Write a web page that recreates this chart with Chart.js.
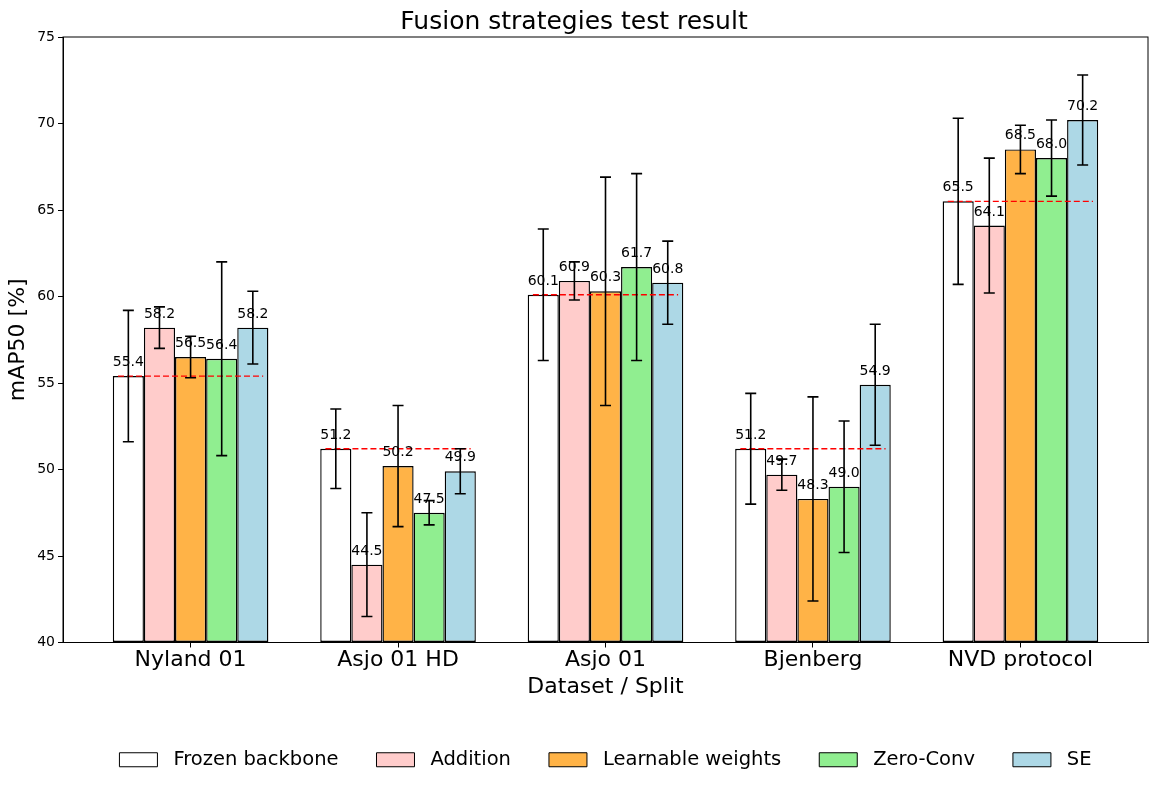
<!DOCTYPE html>
<html>
<head>
<meta charset="utf-8">
<script src="https://cdn.jsdelivr.net/npm/chart.js@4.4.1/dist/chart.umd.min.js"></script>
<style>
  html, body { margin: 0; padding: 0; background: #fff; }
  #wrap { width: 1157px; height: 788px; position: relative; }
</style>
</head>
<body>
<div id="wrap"><canvas id="graph"></canvas></div>
<script>
const groups = ['Nyland 01', 'Asjo 01 HD', 'Asjo 01', 'Bjenberg', 'NVD protocol'];
const seriesNames = ['Frozen backbone', 'Addition', 'Learnable weights', 'Zero-Conv', 'SE'];
const seriesColors = ['#ffffff', '#ffcccb', '#ffb347', '#90ee90', '#add8e6'];

const frozen = [55.4, 51.2, 60.1, 51.2, 65.5];
const frozenErr = [3.8, 2.3, 3.8, 3.2, 4.8];
const addition = [58.2, 44.5, 60.9, 49.7, 64.1];
const additionErr = [1.2, 3.0, 1.1, 0.9, 3.9];
const learnable = [56.5, 50.2, 60.3, 48.3, 68.5];
const learnableErr = [1.2, 3.5, 6.6, 5.9, 1.4];
const zeroConv = [56.4, 47.5, 61.7, 49.0, 68.0];
const zeroConvErr = [5.6, 0.7, 5.4, 3.8, 2.2];
const se = [58.2, 49.9, 60.8, 54.9, 70.2];
const seErr = [2.1, 1.3, 2.4, 3.5, 2.6];

const yTicks = [40, 45, 50, 55, 60, 65, 70, 75];

const allValues = [frozen, addition, learnable, zeroConv, se];
const allErrors = [frozenErr, additionErr, learnableErr, zeroConvErr, seErr];

const FONT = "'DejaVu Sans', sans-serif";

let datasets = [];
allValues.forEach((vals, s) => {
    datasets.push({
        type: 'bar',
        label: seriesNames[s],
        data: vals.map((v, i) => ({ x: i, y: v })),
        errors: allErrors[s],
        backgroundColor: seriesColors[s],
        borderColor: '#000',
        borderWidth: 1.4,
        borderSkipped: false,
        base: 40,
        order: 1
    });
});

// baseline (frozen) dashed line over each group
frozen.forEach((v, i) => {
    datasets.push({
        type: 'line',
        label: 'baseline',
        data: [{ x: i - 0.35, y: v }, { x: i + 0.35, y: v }],
        borderColor: '#ff0000',
        borderWidth: 1.3,
        borderDash: [6, 3],
        pointRadius: 0,
        fill: false,
        order: 0
    });
});

const errorBarPlugin = {
    id: 'errorBars',
    afterDatasetsDraw(chart) {
        const ctx = chart.ctx;
        const yScale = chart.scales.y;
        ctx.save();
        // value labels first, error bars drawn over them
        ctx.font = '14px ' + FONT;
        ctx.fillStyle = '#000';
        ctx.textAlign = 'center';
        ctx.textBaseline = 'bottom';
        chart.data.datasets.forEach((ds, di) => {
            if (ds.type !== 'bar') return;
            const meta = chart.getDatasetMeta(di);
            meta.data.forEach((bar, i) => {
                const v = ds.data[i].y;
                ctx.fillText(v.toFixed(1), bar.x, yScale.getPixelForValue(v + 0.5) + 2);
            });
        });
        ctx.strokeStyle = '#000';
        ctx.lineWidth = 1.6;
        chart.data.datasets.forEach((ds, di) => {
            if (ds.type !== 'bar') return;
            const meta = chart.getDatasetMeta(di);
            meta.data.forEach((bar, i) => {
                const v = ds.data[i].y;
                const e = ds.errors[i];
                const yTop = yScale.getPixelForValue(v + e);
                const yBot = yScale.getPixelForValue(v - e);
                ctx.beginPath();
                ctx.moveTo(bar.x, yTop);
                ctx.lineTo(bar.x, yBot);
                ctx.moveTo(bar.x - 5.5, yTop);
                ctx.lineTo(bar.x + 5.5, yTop);
                ctx.moveTo(bar.x - 5.5, yBot);
                ctx.lineTo(bar.x + 5.5, yBot);
                ctx.stroke();
            });
        });
        ctx.restore();
    },
    afterLayout(chart) {
        // center the legend under the plot area like matplotlib
        const shift = (chart.chartArea.left + chart.chartArea.right) / 2 - (chart.legend.left + chart.legend.right) / 2;
        chart.legend.left += shift;
        chart.legend.right += shift;
    },
    afterDraw(chart) {
        const a = chart.chartArea;
        const ctx = chart.ctx;
        ctx.save();
        ctx.strokeStyle = '#000';
        ctx.lineWidth = 1;
        ctx.strokeRect(a.left, a.top, a.right - a.left, a.bottom - a.top);
        ctx.restore();
    }
};

const ctx = document.getElementById('graph').getContext('2d');
const chart = new Chart(ctx, {
    type: 'bar',
    data: { datasets: datasets },
    plugins: [errorBarPlugin],
    options: {
        responsive: true,
        maintainAspectRatio: false,
        animation: false,
        datasets: { bar: { categoryPercentage: 0.75, barPercentage: 1.0, grouped: true } },
        layout: { padding: { left: 0, right: 9, top: 0, bottom: 8.5 } },
        scales: {
            x: {
                type: 'linear',
                min: -0.615,
                max: 4.615,
                offset: false,
                afterBuildTicks: scale => { scale.ticks = groups.map((g, i) => ({ value: i })); },
                afterFit: scale => { scale.height = 69.5; },
                ticks: {
                    callback: value => groups[value],
                    font: { family: FONT, size: 22 },
                    color: '#000',
                    padding: 0,
                    maxRotation: 0,
                    autoSkip: false
                },
                grid: { display: true, drawOnChartArea: false, offset: false, tickLength: 5, color: '#000' },
                border: { display: true, color: '#000' },
                title: {
                    display: true,
                    text: 'Dataset / Split',
                    font: { family: FONT, size: 22 },
                    color: '#000',
                    padding: { top: 0, bottom: 11.3 }
                }
            },
            y: {
                min: 40,
                max: 75,
                afterBuildTicks: scale => { scale.ticks = yTicks.map(v => ({ value: v })); },
                afterFit: scale => { scale.width = 63; },
                ticks: {
                    font: { family: FONT, size: 14 },
                    color: '#000',
                    padding: 3
                },
                grid: { display: true, drawOnChartArea: false, tickLength: 5, color: '#000' },
                border: { display: true, color: '#000' },
                title: {
                    display: true,
                    text: 'mAP50 [%]',
                    font: { family: FONT, size: 22 },
                    color: '#000',
                    padding: { top: 5, bottom: 0 }
                }
            }
        },
        plugins: {
            title: {
                display: true,
                text: 'Fusion strategies test result',
                font: { family: FONT, size: 25, weight: 'normal', lineHeight: 1.2 },
                color: '#000',
                padding: { top: 7, bottom: 0 }
            },
            legend: {
                position: 'bottom',
                labels: {
                    generateLabels: chart => Chart.defaults.plugins.legend.labels.generateLabels(chart)
                        .filter(item => item.text !== 'baseline')
                        .map(item => Object.assign(item, { text: ' ' + item.text, lineWidth: 1 })),
                    boxWidth: 38,
                    boxHeight: 14,
                    padding: 38,
                    color: '#000',
                    font: { family: FONT, size: 19.5 }
                }
            },
            tooltip: { enabled: false }
        }
    }
});
</script>
</body>
</html>
